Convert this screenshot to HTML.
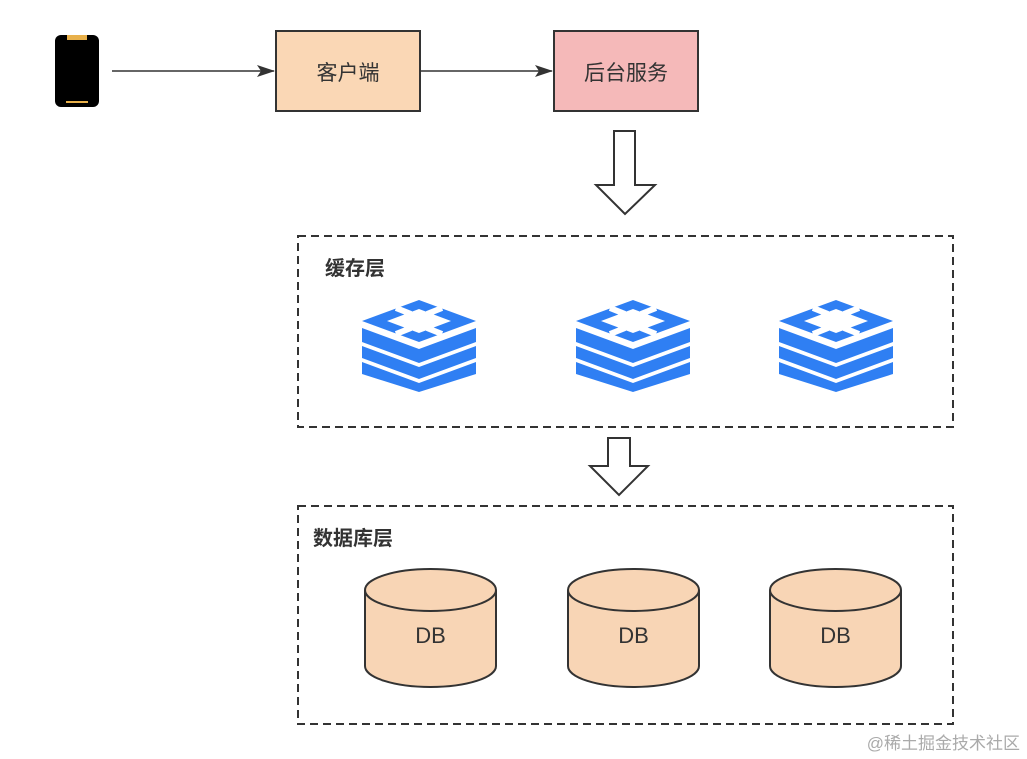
<!DOCTYPE html>
<html><head><meta charset="utf-8"><style>
body{margin:0;background:#fff;}
svg{display:block;font-family:"Liberation Sans","Noto Sans CJK SC",sans-serif;}
</style></head><body>
<svg width="1027" height="759" viewBox="0 0 1027 759" xmlns="http://www.w3.org/2000/svg">
<defs>
<marker id="ah" markerWidth="18" markerHeight="14" refX="17" refY="7" orient="auto" markerUnits="userSpaceOnUse">
<path d="M0,1 L18,7 L0,13 L4,7 Z" fill="#333"/>
</marker>
<g id="redis">
<polygon points="57,0 114,21 57,42 0,21" fill="#2f7ff3"/>
<polygon points="57,9 89,21 57,33 25,21" fill="#fff"/>
<polygon points="57,15 73,21 57,27 41,21" fill="#2f7ff3" opacity="0"/>
<path d="M34,8 L49,14 M80,8 L65,14 M34,34 L49,28 M80,34 L65,28" stroke="#fff" stroke-width="6"/>
<polygon points="0,28 57,49 114,28 114,42 57,63 0,42" fill="#2f7ff3"/>
<polygon points="0,46 57,67 114,46 114,58 57,79 0,58" fill="#2f7ff3"/>
<polygon points="0,62 57,83 114,62 114,74 57,92 0,74" fill="#2f7ff3"/>
</g>
<g id="cyl">
<path d="M0,22 L0,98 A65.5,21 0 0 0 131,98 L131,22" fill="#f8d5b5" stroke="#333" stroke-width="2"/>
<ellipse cx="65.5" cy="22" rx="65.5" ry="21" fill="#f8d5b5" stroke="#333" stroke-width="2"/>
<text x="65.5" y="75" font-size="22" text-anchor="middle" fill="#333">DB</text>
</g>
</defs>

<rect x="55" y="35" width="44" height="72" rx="6" fill="#000"/>
<rect x="67" y="35" width="20" height="5" fill="#e8b04a"/>
<rect x="66" y="101" width="22" height="2" fill="#e8b04a"/>

<line x1="112" y1="71" x2="274" y2="71" stroke="#333" stroke-width="1.5" marker-end="url(#ah)"/>
<rect x="276" y="31" width="144" height="80" fill="#fad7b5" stroke="#333" stroke-width="2"/>
<text x="348" y="80" font-size="21" text-anchor="middle" fill="#333">客户端</text>
<line x1="421" y1="71" x2="552" y2="71" stroke="#333" stroke-width="1.5" marker-end="url(#ah)"/>
<rect x="554" y="31" width="144" height="80" fill="#f5b9b9" stroke="#333" stroke-width="2"/>
<text x="626" y="80" font-size="21" text-anchor="middle" fill="#333">后台服务</text>

<polygon points="614,131 635,131 635,185 655,185 625,214 596,185 614,185" fill="#fff" stroke="#333" stroke-width="2"/>

<rect x="298" y="236" width="655" height="191" fill="none" stroke="#333" stroke-width="2" stroke-dasharray="8,5"/>
<text x="325" y="275" font-size="20" font-weight="bold" fill="#333">缓存层</text>
<use href="#redis" x="362" y="300"/>
<use href="#redis" x="576" y="300"/>
<use href="#redis" x="779" y="300"/>

<polygon points="608,438 630,438 630,466 648,466 619,495 590,466 608,466" fill="#fff" stroke="#333" stroke-width="2"/>

<rect x="298" y="506" width="655" height="218" fill="none" stroke="#333" stroke-width="2" stroke-dasharray="8,5"/>
<text x="313" y="545" font-size="20" font-weight="bold" fill="#333">数据库层</text>
<use href="#cyl" x="365" y="568"/>
<use href="#cyl" x="568" y="568"/>
<use href="#cyl" x="770" y="568"/>

<text x="1020" y="749" font-size="17" text-anchor="end" fill="#aaa">@稀土掘金技术社区</text>
</svg>
</body></html>
